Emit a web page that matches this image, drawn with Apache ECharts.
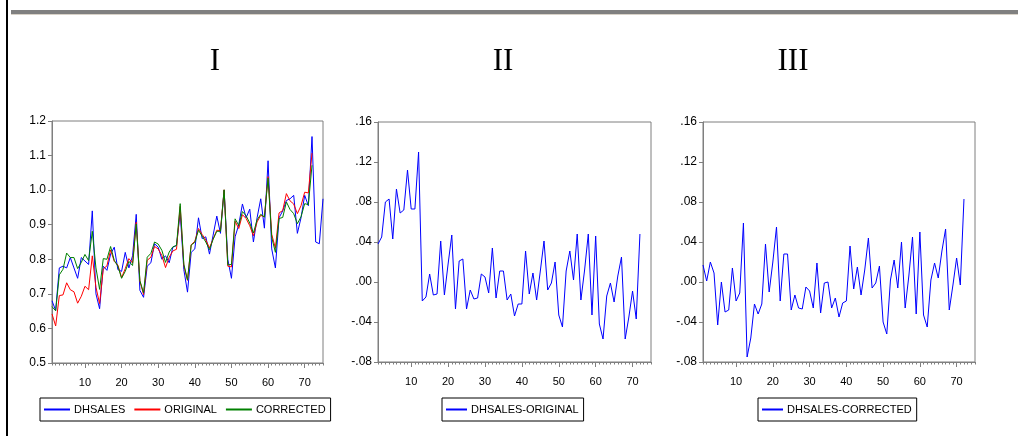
<!DOCTYPE html>
<html>
<head>
<meta charset="utf-8">
<script src="https://cdn.jsdelivr.net/npm/echarts@6/dist/echarts.min.js"></script>
<style>
  html, body { margin: 0; padding: 0; background: #ffffff; }
  #chart { width: 1029px; height: 439px; }
</style>
</head>
<body>
<div id="chart"></div>
<script>
// Observation numbers 1..75 on the horizontal axes
const obs = Array.from({ length: 75 }, (_, i) => String(i + 1));
const majorTicks = [10, 20, 30, 40, 50, 60, 70];

// Panel I series
const dhsales = [
  0.680, 0.652, 0.775, 0.780, 0.775, 0.805, 0.775, 0.745, 0.805, 0.795,
  0.785, 0.940, 0.700, 0.657, 0.780, 0.768, 0.815, 0.835, 0.770, 0.765,
  0.820, 0.775, 0.810, 0.930, 0.710, 0.690, 0.780, 0.790, 0.845, 0.835,
  0.800, 0.810, 0.790, 0.835, 0.840, 0.935, 0.770, 0.705, 0.820, 0.830,
  0.920, 0.860, 0.865, 0.815, 0.870, 0.925, 0.875, 1.000, 0.800, 0.745,
  0.865, 0.900, 0.960, 0.920, 0.945, 0.850, 0.920, 0.975, 0.890, 1.085,
  0.830, 0.775, 0.920, 0.940, 0.970, 0.975, 0.985, 0.875, 0.920, 0.985,
  0.955, 1.155, 0.850, 0.845, 0.975
];
const original = [
  0.642, 0.607, 0.695, 0.697, 0.732, 0.712, 0.706, 0.673, 0.693, 0.722,
  0.712, 0.810, 0.719, 0.672, 0.772, 0.781, 0.827, 0.794, 0.783, 0.747,
  0.773, 0.802, 0.789, 0.907, 0.737, 0.698, 0.797, 0.806, 0.837, 0.830,
  0.811, 0.776, 0.806, 0.824, 0.829, 0.953, 0.782, 0.739, 0.842, 0.852,
  0.889, 0.872, 0.856, 0.833, 0.859, 0.884, 0.883, 1.001, 0.780, 0.778,
  0.910, 0.889, 0.929, 0.918, 0.897, 0.868, 0.908, 0.927, 0.923, 1.039,
  0.872, 0.832, 0.934, 0.941, 0.990, 0.969, 0.960, 0.932, 0.955, 0.994,
  0.992, 1.107
];
const corrected = [
  0.663, 0.651, 0.755, 0.771, 0.818, 0.805, 0.805, 0.773, 0.791, 0.814,
  0.796, 0.881, 0.775, 0.713, 0.802, 0.800, 0.837, 0.797, 0.780, 0.745,
  0.765, 0.794, 0.782, 0.902, 0.738, 0.703, 0.806, 0.817, 0.850, 0.844,
  0.826, 0.791, 0.821, 0.836, 0.840, 0.961, 0.786, 0.740, 0.841, 0.849,
  0.884, 0.867, 0.850, 0.828, 0.858, 0.881, 0.881, 1.001, 0.784, 0.785,
  0.917, 0.898, 0.938, 0.926, 0.905, 0.876, 0.914, 0.930, 0.922, 1.035,
  0.863, 0.820, 0.918, 0.921, 0.966, 0.944, 0.932, 0.903, 0.923, 0.961,
  0.958, 1.072
];

// Panel II: DHSALES-ORIGINAL
const diffOriginal = [
  0.038, 0.045, 0.080, 0.083, 0.043, 0.093, 0.069, 0.072, 0.112, 0.073,
  0.073, 0.130, -0.019, -0.015, 0.008, -0.013, -0.012, 0.041, -0.013, 0.018,
  0.047, -0.027, 0.021, 0.023, -0.027, -0.008, -0.017, -0.016, 0.008, 0.005,
  -0.011, 0.034, -0.016, 0.011, 0.011, -0.018, -0.012, -0.034, -0.022, -0.022,
  0.031, -0.012, 0.009, -0.018, 0.011, 0.041, -0.008, -0.001, 0.020, -0.033,
  -0.045, 0.011, 0.031, 0.002, 0.048, -0.018, 0.012, 0.048, -0.033, 0.046,
  -0.042, -0.057, -0.014, -0.001, -0.020, 0.006, 0.025, -0.057, -0.035, -0.009,
  -0.037, 0.048
];

// Panel III: DHSALES-CORRECTED
const diffCorrected = [
  0.017, 0.001, 0.020, 0.009, -0.043, 0.000, -0.030, -0.028, 0.014, -0.019,
  -0.011, 0.059, -0.075, -0.056, -0.022, -0.032, -0.022, 0.038, -0.010, 0.020,
  0.055, -0.019, 0.028, 0.028, -0.028, -0.013, -0.026, -0.027, -0.005, -0.009,
  -0.026, 0.019, -0.031, -0.001, 0.000, -0.026, -0.016, -0.035, -0.021, -0.019,
  0.036, -0.007, 0.015, -0.013, 0.012, 0.044, -0.006, -0.001, 0.016, -0.040,
  -0.052, 0.002, 0.022, -0.006, 0.040, -0.026, 0.006, 0.045, -0.032, 0.050,
  -0.033, -0.045, 0.002, 0.019, 0.004, 0.031, 0.053, -0.028, -0.003, 0.024,
  -0.003, 0.083
];

const panelTitles = ['I', 'II', 'III'];

const AXIS_GREY = '#7f7f7f';
const FONT = '"Liberation Sans", Arial, sans-serif';

function isMajor(idx) {
  return majorTicks.indexOf(idx + 1) !== -1;
}

// two category axes per panel: one carries labels and long ticks, one the short ticks
function xAxesFor(grid) {
  return [
    {
      type: 'category', gridIndex: grid, data: obs, boundaryGap: false, position: 'bottom',
      axisLine: { show: true, onZero: false, lineStyle: { color: AXIS_GREY, width: 1 } },
      axisTick: { show: true, length: 5, interval: (i) => isMajor(i), lineStyle: { color: AXIS_GREY } },
      axisLabel: { show: true, interval: (i) => isMajor(i), color: '#000', fontSize: 11, fontFamily: FONT, margin: 14 },
      splitLine: { show: false }
    },
    {
      type: 'category', gridIndex: grid, data: obs, boundaryGap: false, position: 'bottom',
      axisLine: { show: false, onZero: false },
      axisTick: { show: true, length: 2.5, interval: 0, lineStyle: { color: AXIS_GREY } },
      axisLabel: { show: false },
      splitLine: { show: false }
    }
  ];
}

function diffLabel(v) {
  const r = Math.round(v * 100) / 100;
  const s = Math.abs(r).toFixed(2).replace(/^0/, '');
  return (r < 0 ? '-' : '') + s;
}

function yAxisFor(grid, min, max, interval, fmt) {
  return {
    type: 'value', gridIndex: grid, min: min, max: max, interval: interval,
    axisLine: { show: true, onZero: false, lineStyle: { color: AXIS_GREY, width: 1 } },
    axisTick: { show: true, length: 4, lineStyle: { color: AXIS_GREY } },
    axisLabel: { color: '#000', fontSize: 12, fontFamily: FONT, margin: 6, formatter: fmt },
    splitLine: { show: false }
  };
}

function lineSeries(name, data, color, xi, yi) {
  return {
    type: 'line', name: name, data: data, xAxisIndex: xi, yAxisIndex: yi,
    showSymbol: false, symbol: 'none', smooth: false,
    lineStyle: { color: color, width: 1 }, itemStyle: { color: color },
    emphasis: { disabled: true }, animation: false
  };
}

function legendFor(left, names, itemWidth) {
  return {
    left: left, top: 398, orient: 'horizontal',
    data: names, icon: 'rect', itemWidth: itemWidth, itemHeight: 2, itemGap: 9,
    borderColor: '#000', borderWidth: 1, backgroundColor: '#fff',
    padding: [6, 5, 6, 4],
    textStyle: { color: '#000', fontSize: 11, fontFamily: FONT, padding: [0, 0, 0, -1] },
    selectedMode: false
  };
}

const chart = echarts.init(document.getElementById('chart'), null, { renderer: 'canvas' });

chart.setOption({
  backgroundColor: '#ffffff',
  animation: false,
  grid: [
    { left: 52, top: 121, width: 271, height: 242, show: true, borderColor: AXIS_GREY, borderWidth: 1, backgroundColor: 'transparent' },
    { left: 378, top: 122, width: 273, height: 240, show: true, borderColor: AXIS_GREY, borderWidth: 1, backgroundColor: 'transparent' },
    { left: 703, top: 122, width: 272, height: 240, show: true, borderColor: AXIS_GREY, borderWidth: 1, backgroundColor: 'transparent' }
  ],
  xAxis: [].concat(xAxesFor(0), xAxesFor(1), xAxesFor(2)),
  yAxis: [
    yAxisFor(0, 0.5, 1.2, 0.1, (v) => v.toFixed(1)),
    yAxisFor(1, -0.08, 0.16, 0.04, diffLabel),
    yAxisFor(2, -0.08, 0.16, 0.04, diffLabel)
  ],
  legend: [
    legendFor(40, ['DHSALES', 'ORIGINAL', 'CORRECTED'], 26),
    legendFor(442, ['DHSALES-ORIGINAL'], 21),
    legendFor(758, ['DHSALES-CORRECTED'], 21)
  ],
  series: [
    lineSeries('DHSALES', dhsales, '#0000ff', 0, 0),
    lineSeries('ORIGINAL', original, '#ff0000', 0, 0),
    lineSeries('CORRECTED', corrected, '#008000', 0, 0),
    lineSeries('DHSALES-ORIGINAL', diffOriginal, '#0000ff', 2, 1),
    lineSeries('DHSALES-CORRECTED', diffCorrected, '#0000ff', 4, 2)
  ],
  graphic: [
    // page frame: left rule and top band
    { type: 'rect', silent: true, shape: { x: 6, y: 0, width: 2, height: 436 }, style: { fill: '#000' } },
    { type: 'rect', silent: true, shape: { x: 11, y: 10, width: 1007, height: 4 }, style: { fill: '#808080' } },
    { type: 'rect', silent: true, shape: { x: 11, y: 14, width: 1007, height: 1 }, style: { fill: '#d8d2c8' } },
    // panel headings
    { type: 'text', silent: true, style: { x: 215, y: 62, text: panelTitles[0], font: '31px "Liberation Serif", "Times New Roman", serif', fill: '#000', textAlign: 'center', textVerticalAlign: 'middle' } },
    { type: 'text', silent: true, style: { x: 503, y: 62, text: panelTitles[1], font: '31px "Liberation Serif", "Times New Roman", serif', fill: '#000', textAlign: 'center', textVerticalAlign: 'middle' } },
    { type: 'text', silent: true, style: { x: 793, y: 62, text: panelTitles[2], font: '31px "Liberation Serif", "Times New Roman", serif', fill: '#000', textAlign: 'center', textVerticalAlign: 'middle' } }
  ]
});
</script>
</body>
</html>
